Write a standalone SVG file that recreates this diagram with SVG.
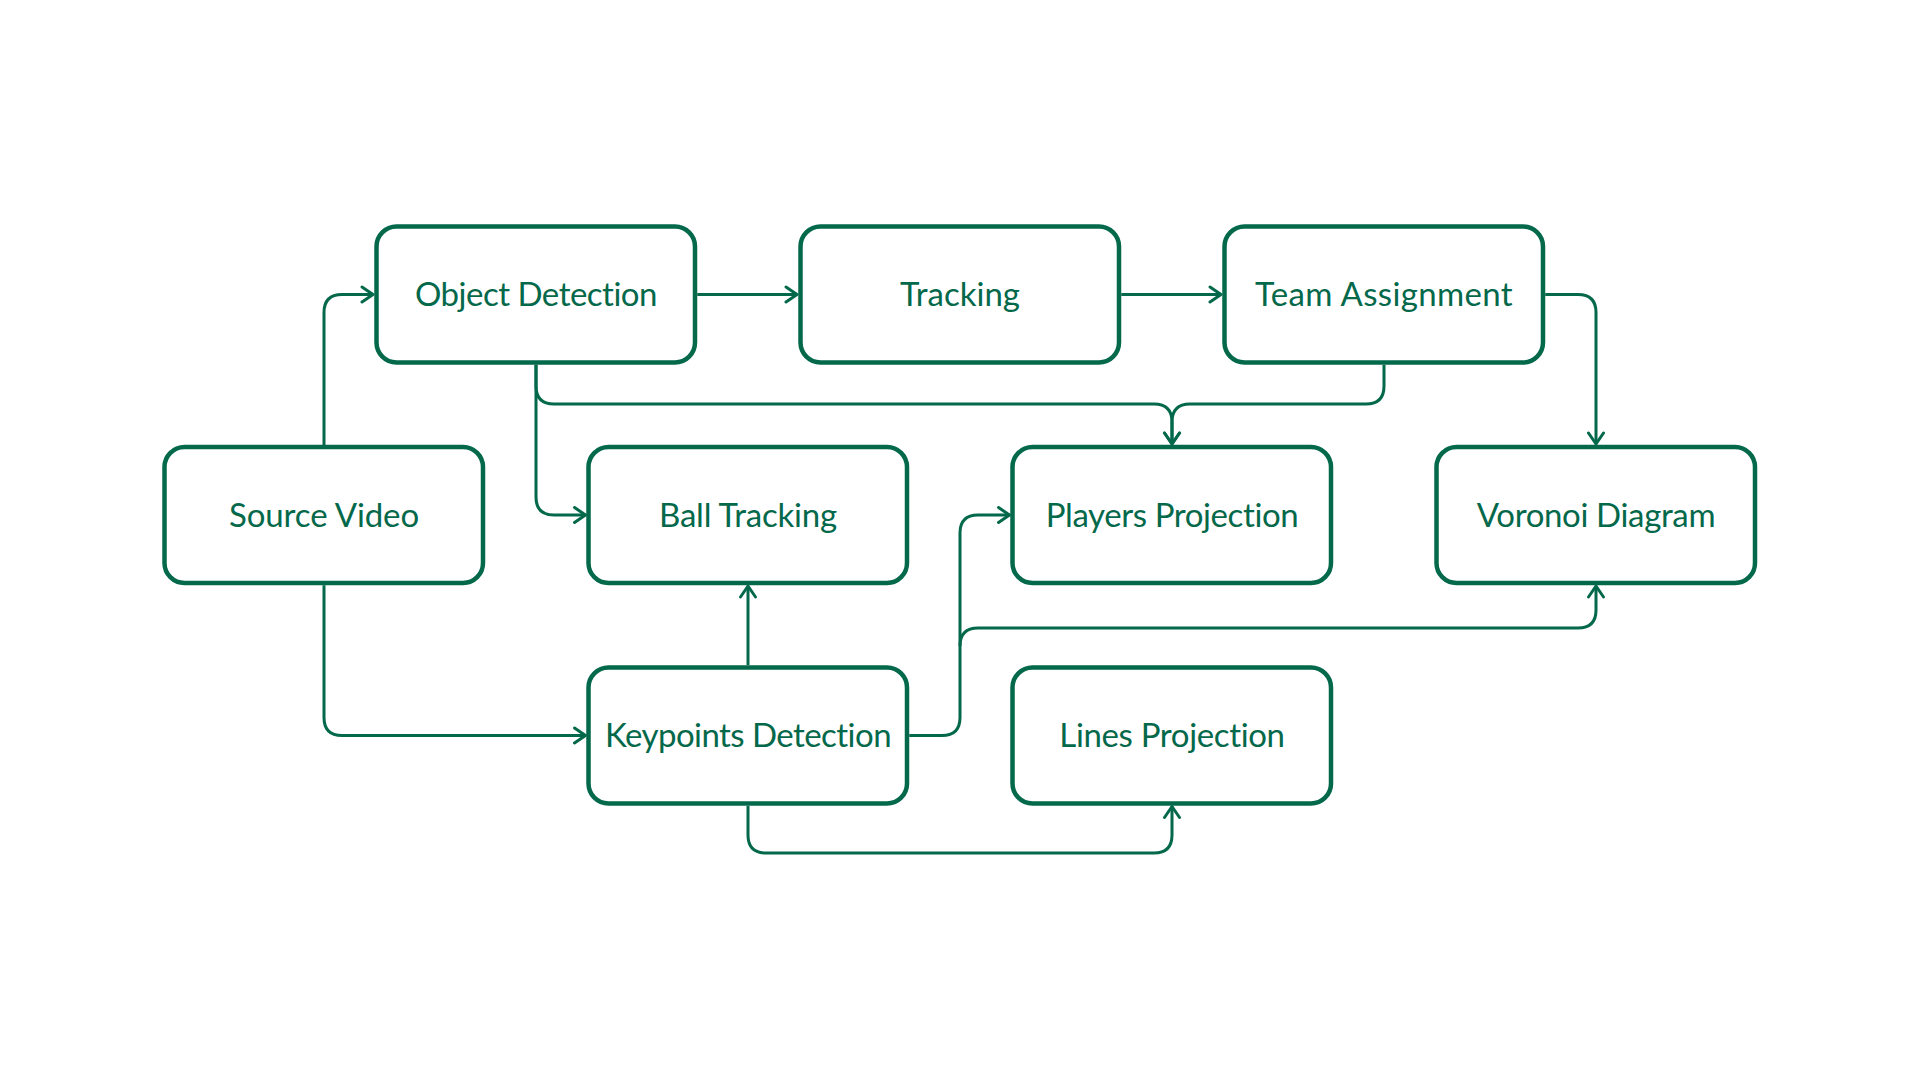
<svg xmlns="http://www.w3.org/2000/svg" width="1920" height="1080" viewBox="0 0 1920 1080">
<style>
.node rect{fill:#ffffff;stroke:#04684A;stroke-width:4.5}
.node text{font-family:Lato,"Open Sans","Liberation Sans",sans-serif;font-size:33px;fill:#04684A;text-anchor:middle}
.conn path{fill:none;stroke:#04684A;stroke-width:3;stroke-linejoin:round}
</style>
<defs>
<marker id="arr" viewBox="-14 -10 16 20" refX="0" refY="0" markerWidth="16" markerHeight="20" markerUnits="userSpaceOnUse" orient="auto">
<path d="M-11,-7.5 L0,0 L-11,7.5" fill="none" stroke="#04684A" stroke-width="3" stroke-linecap="round" stroke-linejoin="round"/>
</marker>
</defs>
<rect width="1920" height="1080" fill="#ffffff"/>
<g id="connectors" class="conn">
<path d="M324,447 V312.5 Q324,294.5 342,294.5 H373" marker-end="url(#arr)"/>
<path d="M697.25,294.5 H797" marker-end="url(#arr)"/>
<path d="M1121.25,294.5 H1221" marker-end="url(#arr)"/>
<path d="M1545.25,294.5 H1578 Q1596,294.5 1596,312.5 V444" marker-end="url(#arr)"/>
<path d="M536,364.75 V386 Q536,404 554,404 H1154 Q1172,404 1172,422 V444" marker-end="url(#arr)"/>
<path d="M1384,364.75 V386 Q1384,404 1366,404 H1190 Q1172,404 1172,422 V444" marker-end="url(#arr)"/>
<path d="M536,364.75 V497 Q536,515 554,515 H585.5" marker-end="url(#arr)"/>
<path d="M324,585.25 V717.5 Q324,735.5 342,735.5 H585.5" marker-end="url(#arr)"/>
<path d="M748,665.25 V586" marker-end="url(#arr)"/>
<path d="M909.25,735.5 H942 Q960,735.5 960,717.5 V533 Q960,515 978,515 H1009.5" marker-end="url(#arr)"/>
<path d="M960,646 Q960,628 978,628 H1578 Q1596,628 1596,610 V586" marker-end="url(#arr)"/>
<path d="M748,805.75 V835 Q748,853 766,853 H1154 Q1172,853 1172,835 V806.5" marker-end="url(#arr)"/>
</g>
<g id="source-video" class="node"><rect x="164.5" y="447" width="318.5" height="136" rx="20"/><text x="324" y="527" letter-spacing="-0.1">Source Video</text></g>
<g id="object-detection" class="node"><rect x="376.5" y="226.5" width="318.5" height="136" rx="20"/><text x="536" y="306" letter-spacing="-0.5">Object Detection</text></g>
<g id="tracking" class="node"><rect x="800.5" y="226.5" width="318.5" height="136" rx="20"/><text x="960" y="306" letter-spacing="0">Tracking</text></g>
<g id="team-assignment" class="node"><rect x="1224.5" y="226.5" width="318.5" height="136" rx="20"/><text x="1384" y="306" letter-spacing="0.35">Team Assignment</text></g>
<g id="ball-tracking" class="node"><rect x="588.5" y="447" width="318.5" height="136" rx="20"/><text x="748" y="527" letter-spacing="-0.2">Ball Tracking</text></g>
<g id="players-projection" class="node"><rect x="1012.5" y="447" width="318.5" height="136" rx="20"/><text x="1172" y="527" letter-spacing="-0.4">Players Projection</text></g>
<g id="voronoi-diagram" class="node"><rect x="1436.5" y="447" width="318.5" height="136" rx="20"/><text x="1596" y="527" letter-spacing="-0.35">Voronoi Diagram</text></g>
<g id="keypoints-detection" class="node"><rect x="588.5" y="667.5" width="318.5" height="136" rx="20"/><text x="748" y="747" letter-spacing="-0.55">Keypoints Detection</text></g>
<g id="lines-projection" class="node"><rect x="1012.5" y="667.5" width="318.5" height="136" rx="20"/><text x="1172" y="747" letter-spacing="-0.35">Lines Projection</text></g>
</svg>
